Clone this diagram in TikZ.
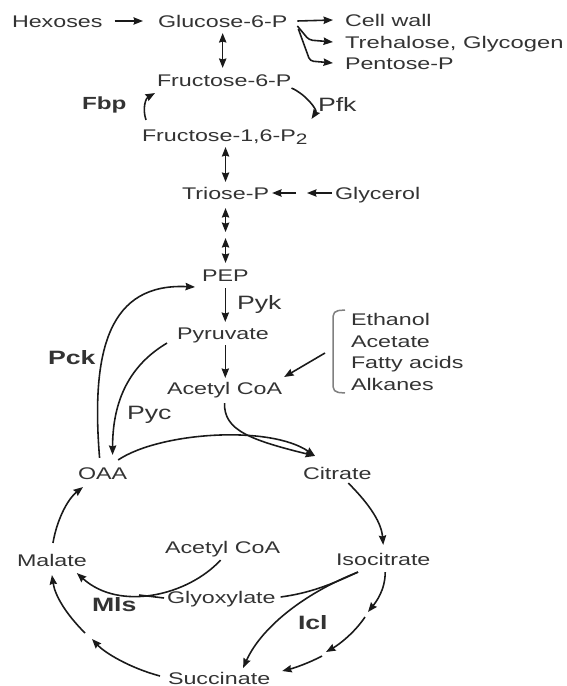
\documentclass[tikz,border=0pt]{standalone}
\usepackage{fontspec}
\setmainfont{Liberation Sans}
\usepackage{graphicx}
\usetikzlibrary{arrows.meta,calc}
\definecolor{txtc}{HTML}{333333}
\definecolor{linec}{HTML}{1A1A1A}
\newcommand{\sx}[1]{\scalebox{1.38}[1]{#1}}
\begin{document}
\begin{tikzpicture}[x=0.02cm,y=-0.02cm,
  >={Stealth[length=5.4pt,width=4.2pt,inset=0.6pt]},
  met/.style={inner sep=0pt, outer sep=0pt, anchor=west, text=txtc, font=\fontsize{9.6}{11}\selectfont, text height=6.9pt, text depth=0pt},
  enz/.style={met, font=\fontsize{11}{13}\selectfont, text height=7.9pt},
  enzb/.style={met, font=\fontsize{11}{13}\selectfont\bfseries, text height=7.9pt},
  ln/.style={draw=linec, line width=0.9pt},
  arr/.style={ln, ->},
  darr/.style={ln, <->},
  brk/.style={draw=gray, line width=0.85pt, rounded corners=3pt}]
\path[use as bounding box] (0,0) rectangle (566,686);
\clip (0,0) rectangle (566,686);
% metabolites
\node[met] (hex) at (12,21) {\sx{Hexoses}};
\node[met] (glu) at (158,21) {\sx{Glucose-6-P}};
\node[met] (cell) at (345,20) {\sx{Cell wall}};
\node[met] (treh) at (345,42) {\scalebox{1.41}[1]{Trehalose, Glycogen}};
\node[met] (pent) at (345,63) {\sx{Pentose-P}};
\node[met] (f6p) at (157,80) {\sx{Fructose-6-P}};
\node[met] (f16) at (142,135) {\sx{Fructose-1,6-P\raisebox{-1.8pt}{\fontsize{8.6}{10}\selectfont 2}}};
\node[met] (tri) at (182,193) {\sx{Triose-P}};
\node[met] (gly) at (335,193) {\sx{Glycerol}};
\node[met] (pep) at (202,275) {\sx{PEP}};
\node[met] (pyr) at (177,333) {\sx{Pyruvate}};
\node[met] (acoa) at (167,388) {\sx{Acetyl CoA}};
\node[met] (eth) at (351,319) {\sx{Ethanol}};
\node[met] (ace) at (351,341) {\sx{Acetate}};
\node[met] (fat) at (351,362) {\sx{Fatty acids}};
\node[met] (alk) at (351,384) {\sx{Alkanes}};
\node[met] (oaa) at (78,473) {\sx{OAA}};
\node[met] (cit) at (303,473) {\sx{Citrate}};
\node[met] (mal) at (17,560) {\sx{Malate}};
\node[met] (acoa2) at (165,547) {\sx{Acetyl CoA}};
\node[met] (iso) at (336,559) {\sx{Isocitrate}};
\node[met] (glx) at (167,597) {\sx{Glyoxylate}};
\node[met] (suc) at (168,678) {\sx{Succinate}};
% enzymes
\node[enzb, font=\fontsize{10}{12}\selectfont\bfseries] (fbp) at (82,103) {\sx{Fbp}};
\node[enz] (pfk) at (318,105) {\sx{Pfk}};
\node[enz] (pyk) at (237,303) {\sx{Pyk}};
\node[enzb] (pck) at (48,358) {\sx{Pck}};
\node[enz] (pyc) at (127,413) {\sx{Pyc}};
\node[enzb] (mls) at (92,605) {\sx{Mls}};
\node[enzb] (icl) at (298,623) {\sx{Icl}};
% free points between unnamed steps
\coordinate (r1a) at (368,612);
\coordinate (r1b) at (365,617);
\coordinate (r2a) at (326,652);
\coordinate (r2b) at (322,656);
\coordinate (l1a) at (92,639);
\coordinate (l1b) at (85,633);
% top row
\draw[arr] ($(hex.east)+(12,0)$) -- ($(glu.west)+(-15,0)$);
\draw[arr] ($(glu.east)+(10,0)$) -- ($(cell.west)+(-12,0)$);
\draw[arr, rounded corners=2pt] ($(glu.east)+(10,5)$) -- ($(treh.west)+(-36,-2)$) -- ($(treh.west)+(-12,0)$);
\draw[arr, rounded corners=2pt] ($(glu.east)+(11,8)$) -- ($(pent.west)+(-35,-2)$) -- ($(pent.west)+(-12,0)$);
\draw[darr] ($(glu.south)+(0,6)$) -- ($(glu.south |- f6p.north)+(0,-6)$);
% Fbp / Pfk
\draw[arr] ($(f16.north west)+(4,-9)$) .. controls +(-4,-12) and +(-9,5) .. ($(f6p.south west)+(-2,7)$);
\draw[arr] ($(f6p.south east)+(0,2)$) .. controls +(14,6) and +(6,-9) .. ($(f16.north east)+(4,-10)$);
% lower glycolysis
\draw[darr] ($(tri.north)+(0,-5)$) -- ($(tri.north |- f16.south)+(0,6)$);
\draw[arr] ($(tri.east)+(27,0)$) -- ($(tri.east)+(3,0)$);
\draw[arr] ($(gly.west)+(-3,0)$) -- ($(gly.west)+(-28,0)$);
\draw[darr] ($(tri.south)+(0,9)$) -- ($(tri.south)+(0,33)$);
\draw[darr] ($(tri.south)+(0,39)$) -- ($(tri.south |- pep.north)+(0,-6)$);
\draw[arr] ($(pep.south)+(0,7)$) -- ($(pep.south |- pyr.north)+(0,-5)$);
\draw[arr] ($(pep.south |- pyr.south)+(0,6)$) -- ($(pep.south |- acoa.north)+(0,-4)$);
% Pck, Pyc
\draw[arr] ($(oaa.north)+(-3,-9)$) .. controls +(-9,-110) and +(-85,-4) .. ($(pep.west)+(-7,12)$);
\draw[arr] ($(pyr.south west)+(-10,4)$) .. controls +(-37,22) and +(0,-55) .. ($(oaa.north)+(10,-12)$);
% into citrate
\draw[arr] ($(oaa.north east)+(-9,-7)$) .. controls +(42,-28) and +(-45,-31) .. ($(cit.north west)+(12,-11)$);
\draw[arr] ($(acoa.south)+(0,9)$) .. controls +(-1,27) and +(-65,-16) .. ($(cit.north west)+(12,-11)$);
% bracket
\draw[brk] ($(eth.west)+(-6,-9)$) -- ($(eth.west)+(-18,-8)$) -- ($(alk.west)+(-18,8)$) -- ($(alk.west)+(-6,9)$);
\draw[arr] ($(fat.west)+(-26,-9)$) -- ($(acoa.east)+(2,-11)$);
% cycle
\draw[arr] ($(mal.north)+(1,-11)$) .. controls +(5,-28) and +(-13,10) .. ($(oaa.south west)+(5,8)$);
\draw[arr] ($(cit.south)+(11,4)$) .. controls +(17,17) and +(-2,-25) .. ($(iso.north)+(0,-8)$);
\draw[arr] ($(iso.south)+(2,7)$) .. controls +(0,18) and +(8,-10) .. (r1a);
\draw[arr] (r1b) .. controls +(-10,15) and +(14,-8) .. (r2a);
\draw[arr] (r2b) .. controls +(-13,7) and +(12,-3) .. ($(suc.east)+(12,-7)$);
\draw[arr] ($(suc.west)+(-8,-2)$) .. controls +(-30,-8) and +(13,14) .. (l1a);
\draw[arr] (l1b) .. controls +(-20,-20) and +(3,20) .. ($(mal.south)+(0,9)$);
% glyoxylate shunt
\draw[arr] ($(acoa2.south)+(-2,7)$) .. controls +(-32,35) and +(43,39) .. ($(mal.south east)+(-10,7)$);
\draw[ln] ($(glx.west)+(-3,1)$) -- ($(glx.west)+(-28,-2)$);
\draw[ln] ($(iso.south west)+(22,7)$) .. controls +(-28,13) and +(29,-4) .. ($(glx.east)+(5,0)$);
\draw[arr] ($(iso.south west)+(22,7)$) .. controls +(-58,23) and +(17,-38) .. ($(suc.north)+(24,-4)$);
\end{tikzpicture}
\end{document}
